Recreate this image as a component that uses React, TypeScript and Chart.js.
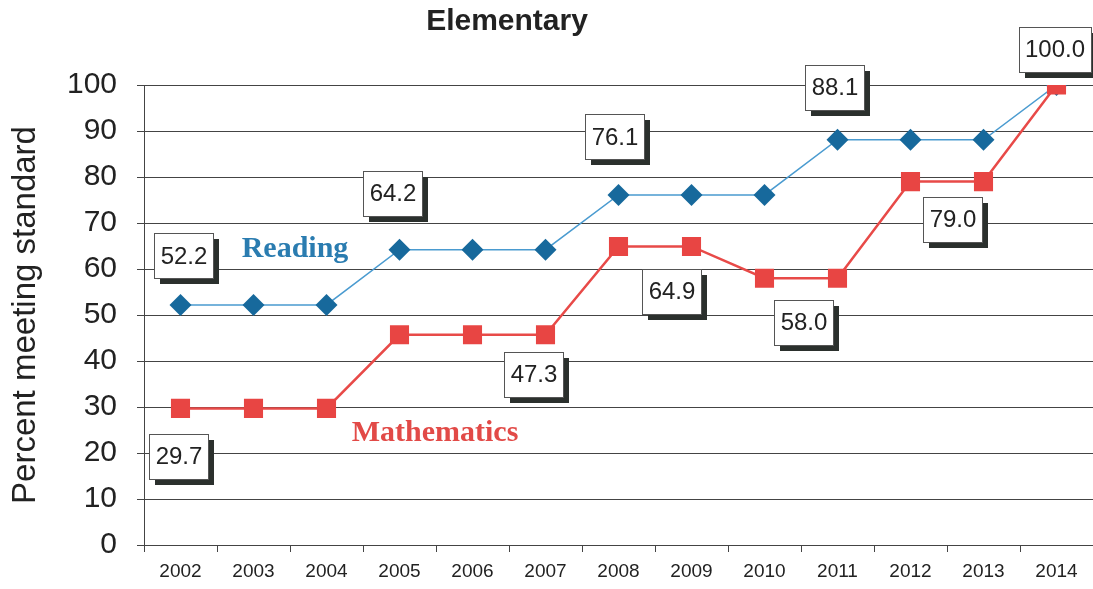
import React, { useEffect, useRef } from 'react';
import { Chart, registerables } from 'chart.js';

Chart.register(...registerables);

const years = ['2002', '2003', '2004', '2005', '2006', '2007', '2008', '2009', '2010', '2011', '2012', '2013', '2014'];
const readingValues = [52.2, 52.2, 52.2, 64.2, 64.2, 64.2, 76.1, 76.1, 76.1, 88.1, 88.1, 88.1, 100.0];
const mathValues = [29.7, 29.7, 29.7, 45.7, 45.7, 45.7, 64.9, 64.9, 58.0, 58.0, 79.0, 79.0, 100.0];

// callout texts and the point index each one is attached to
const readingCalloutTexts = ['52.2', '64.2', '76.1', '88.1', '100.0'];
const readingCalloutIndex = [0, 3, 6, 9, 12];
const mathCalloutTexts = ['29.7', '47.3', '64.9', '58.0', '79.0'];
const mathCalloutIndex = [0, 5, 7, 9, 11];

// pixel offsets of callout box centres from their points (styling)
const readingCalloutOffsets = [[3, -49], [-7, -56], [-4, -58], [-3, -52], [-2, -36]];
const mathCalloutOffsets = [[-2, 48], [-12, 40], [-20, 45], [-34, 44], [-31, 38]];

const FONT = '"Liberation Sans", Arial, sans-serif';
const SERIF = '"Liberation Serif", "Times New Roman", serif';

const overlayPlugin = {
  id: 'overlay',
  afterDatasetsDraw(chart: any) {
    const ctx = chart.ctx;
    const drawCallouts = (dsIndex: number, texts: string[], idxs: number[], offs: number[][]) => {
      const meta = chart.getDatasetMeta(dsIndex);
      texts.forEach((t, i) => {
        const pt = meta.data[idxs[i]];
        if (!pt) return;
        const cx = pt.x + offs[i][0];
        const cy = pt.y + offs[i][1];
        ctx.save();
        ctx.font = `24px ${FONT}`;
        const w = Math.round(ctx.measureText(t).width + 12);
        const h = 45;
        const x0 = Math.round(cx - w / 2);
        const y0 = Math.round(cy - h / 2);
        ctx.fillStyle = '#2b302d';
        ctx.fillRect(x0 + 6, y0 + 6, w, h);
        ctx.fillStyle = '#ffffff';
        ctx.fillRect(x0, y0, w, h);
        ctx.strokeStyle = '#555';
        ctx.lineWidth = 1;
        ctx.strokeRect(x0 + 0.5, y0 + 0.5, w, h);
        ctx.fillStyle = '#222';
        ctx.textAlign = 'center';
        ctx.textBaseline = 'middle';
        ctx.fillText(t, cx + 0.5, cy + 1);
        ctx.restore();
      });
    };
    drawCallouts(1, readingCalloutTexts, readingCalloutIndex, readingCalloutOffsets);
    drawCallouts(0, mathCalloutTexts, mathCalloutIndex, mathCalloutOffsets);

    const area = chart.chartArea;
    ctx.save();
    ctx.textAlign = 'center';
    ctx.textBaseline = 'middle';
    ctx.font = `bold 30px ${SERIF}`;
    ctx.fillStyle = '#2a7cb0';
    ctx.fillText('Reading', area.left + 151, area.top + 164);
    ctx.fillStyle = '#e24a47';
    ctx.fillText('Mathematics', area.left + 291, area.top + 348);
    ctx.font = `bold 30px ${FONT}`;
    ctx.fillStyle = '#222';
    ctx.fillText('Elementary', 507, 22);
    ctx.restore();
  },
};

export default function App() {
  const ref = useRef<HTMLCanvasElement | null>(null);
  useEffect(() => {
    if (!ref.current) return;
    const chart = new Chart(ref.current, {
      type: 'line',
      data: {
        labels: years,
        datasets: [
          {
            label: 'Mathematics',
            data: mathValues,
            borderColor: '#e84a48',
            backgroundColor: '#e84543',
            borderWidth: 2.5,
            pointStyle: 'rect',
            pointRadius: 13.5,
            pointBorderWidth: 0,
            pointBackgroundColor: '#e84543',
            tension: 0,
          },
          {
            label: 'Reading',
            data: readingValues,
            borderColor: '#4a9bd0',
            backgroundColor: '#17699c',
            borderWidth: 1.5,
            pointStyle: 'rectRot',
            pointRadius: 11,
            pointBorderWidth: 0,
            pointBackgroundColor: '#17699c',
            tension: 0,
          },
        ],
      },
      options: {
        animation: false,
        responsive: true,
        maintainAspectRatio: false,
        layout: { autoPadding: false, padding: { top: 85, right: 0, left: 0, bottom: 0 } },
        plugins: {
          legend: { display: false },
          tooltip: { enabled: false },
          title: { display: false },
        },
        scales: {
          x: {
            type: 'category',
            offset: true,
            grid: {
              offset: true,
              drawOnChartArea: false,
              drawTicks: true,
              tickLength: 7,
              color: '#444',
            },
            border: { display: true, color: '#444', width: 1 },
            ticks: {
              color: '#222',
              font: { family: FONT, size: 19 },
              padding: 8,
              maxRotation: 0,
              autoSkip: false,
            },
            afterFit(scale: any) {
              scale.height = 44;
              scale.paddingLeft = 0;
              scale.paddingRight = 0;
            },
          },
          y: {
            min: 0,
            max: 100,
            ticks: {
              stepSize: 5,
              color: '#222',
              font: { family: FONT, size: 30 },
              padding: 20,
              callback: (v: any) => (Number(v) % 10 === 0 ? String(v) : ''),
            },
            grid: {
              color: (c: any) => (c.tick && c.tick.value % 10 === 0 ? '#444' : 'rgba(0,0,0,0)'),
              tickColor: '#444',
              tickLength: 7,
              lineWidth: 1,
            },
            border: { display: true, color: '#444', width: 1 },
            title: {
              display: true,
              text: 'Percent meeting standard',
              color: '#222',
              font: { family: FONT, size: 33 },
              padding: { top: 6, bottom: 0 },
            },
            afterFit(scale: any) {
              scale.width = 144;
            },
          },
        },
      },
      plugins: [overlayPlugin],
    });
    return () => chart.destroy();
  }, []);

  return (
    <div style={{ position: 'absolute', left: 0, top: 0, width: 1093, height: 589, background: '#fff', overflow: 'hidden' }}>
      <canvas ref={ref} style={{ display: 'block' }} />
    </div>
  );
}
